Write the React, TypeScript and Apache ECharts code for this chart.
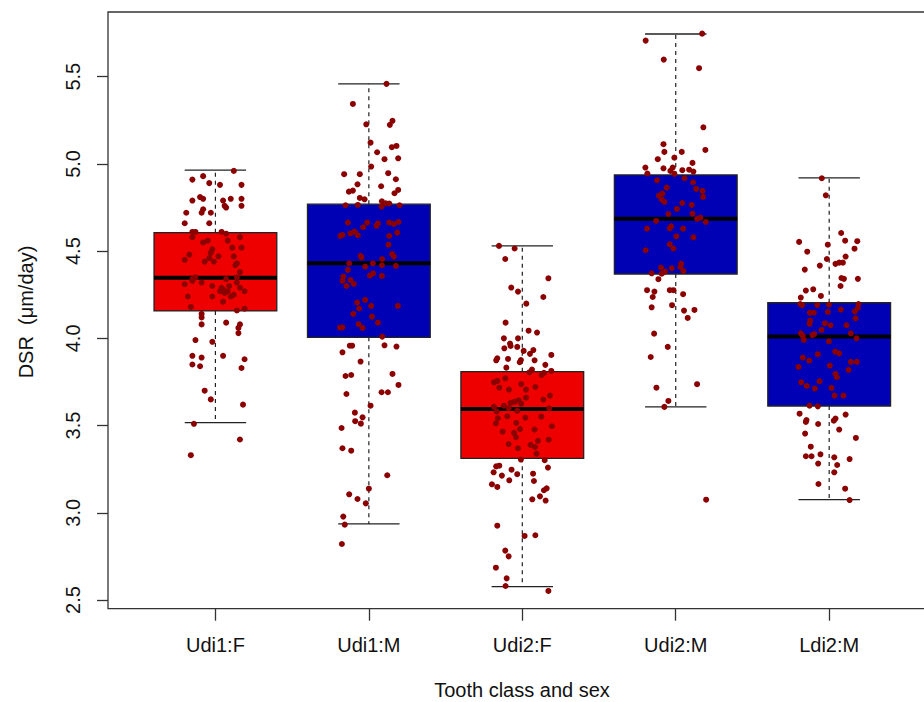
import React, { useEffect, useRef } from "react";
import * as echarts from "echarts";

// Categories (tooth class : sex)
const categories = ["Udi1:F", "Udi1:M", "Udi2:F", "Udi2:M", "Ldi2:M"];

// Box statistics (µm/day)
const whiskerLow = [3.517, 2.936, 2.576, 3.607, 3.075];
const q1 = [4.157, 4.006, 3.312, 4.369, 3.612];
const median = [4.348, 4.431, 3.595, 4.685, 4.01];
const q3 = [4.606, 4.769, 3.809, 4.937, 4.204];
const whiskerHigh = [4.964, 5.459, 4.53, 5.745, 4.92];

// Box fill colours
const boxColors = ["#EE0000", "#0000B4", "#EE0000", "#0000B4", "#0000B4"];

// Y-axis tick values
const yTicks = [2.5, 3.0, 3.5, 4.0, 4.5, 5.0, 5.5];

// Individual observations: [horizontal jitter (category units), DSR value]
const udi1F = [
  [0.12, 4.96], [-0.15, 4.91], [-0.08, 4.93], [-0.04, 4.89], [0.03, 4.88], [0.17, 4.88],
  [-0.15, 4.79], [-0.1, 4.81], [-0.08, 4.8], [0.05, 4.79], [0.1, 4.8], [0.17, 4.8],
  [0.17, 4.76], [0.06, 4.76], [0.07, 4.75], [-0.08, 4.74], [-0.09, 4.72], [-0.19, 4.72],
  [-0.03, 4.72], [-0.2, 4.66], [-0.04, 4.66], [-0.15, 4.61], [-0.13, 4.61], [0.04, 4.61],
  [0.07, 4.6], [-0.15, 4.58], [-0.05, 4.56], [-0.08, 4.55], [0.08, 4.56], [0.16, 4.58],
  [-0.02, 4.51], [0.17, 4.52], [0.11, 4.52], [-0.17, 4.48], [-0.03, 4.49], [0.02, 4.47],
  [-0.04, 4.46], [-0.2, 4.45], [-0.07, 4.44], [-0.01, 4.44], [0.12, 4.47], [0.13, 4.42],
  [0.14, 4.43], [0.16, 4.38], [-0.15, 4.34], [-0.13, 4.35], [0.07, 4.34], [0.14, 4.35],
  [-0.2, 4.31], [-0.15, 4.33], [-0.09, 4.32], [-0.02, 4.3], [0.04, 4.29], [0.05, 4.28],
  [0.09, 4.3], [0.14, 4.32], [0.03, 4.27], [0.06, 4.26], [0.08, 4.27], [0.16, 4.29],
  [0.19, 4.27], [-0.02, 4.24], [-0.18, 4.24], [0.1, 4.24], [0.12, 4.25], [0.05, 4.21],
  [-0.16, 4.18], [0.14, 4.16], [0.19, 4.17], [-0.09, 4.14], [-0.09, 4.12], [-0.09, 4.08],
  [0.07, 4.09], [0.16, 4.08], [0.15, 4.06], [0.15, 4.03], [-0.13, 3.99], [-0.02, 3.98],
  [-0.15, 3.9], [-0.09, 3.89], [0.05, 3.9], [0.19, 3.88], [-0.15, 3.85], [-0.1, 3.84],
  [0.17, 3.83], [-0.07, 3.7], [-0.03, 3.65], [0.18, 3.62], [-0.14, 3.51], [0.16, 3.42],
  [-0.16, 3.33],
];

const udi1M = [
  [0.115, 5.459], [-0.104, 5.344], [-0.017, 5.227], [0.137, 5.224], [0.154, 5.247], [0.011, 5.122],
  [0.054, 5.067], [0.102, 5.027], [0.15, 5.096], [0.18, 5.103], [0.191, 5.032], [0.015, 4.985],
  [-0.161, 4.941], [-0.059, 4.941], [0.126, 4.947], [0.176, 4.912], [-0.074, 4.883], [0.08, 4.872],
  [-0.13, 4.841], [-0.104, 4.847], [0.191, 4.851], [0.167, 4.832], [-0.059, 4.805], [-0.028, 4.797],
  [0.085, 4.786], [0.111, 4.774], [0.133, 4.773], [-0.152, 4.763], [-0.072, 4.765], [0.083, 4.755],
  [0.2, 4.763], [-0.137, 4.664], [-0.037, 4.637], [-0.011, 4.664], [0.05, 4.645], [0.059, 4.66],
  [0.133, 4.664], [0.163, 4.656], [0.193, 4.667], [0.185, 4.606], [-0.185, 4.587], [-0.172, 4.593],
  [-0.12, 4.602], [-0.093, 4.612], [-0.072, 4.591], [0.133, 4.587], [0.128, 4.537], [-0.054, 4.473],
  [-0.048, 4.463], [0.152, 4.484], [0.163, 4.469], [0.176, 4.415], [0.087, 4.455], [-0.128, 4.43],
  [0.026, 4.43], [-0.024, 4.411], [0.085, 4.419], [-0.137, 4.392], [0.028, 4.373], [0.007, 4.36],
  [0.085, 4.358], [-0.167, 4.354], [-0.172, 4.329], [-0.12, 4.335], [-0.098, 4.312], [-0.146, 4.3],
  [-0.024, 4.22], [-0.076, 4.205], [0.015, 4.186], [-0.063, 4.171], [0.189, 4.186], [-0.102, 4.14],
  [0.02, 4.125], [0.059, 4.09], [-0.067, 4.081], [-0.041, 4.06], [-0.189, 4.062], [-0.172, 4.063],
  [0.087, 4.01], [-0.124, 3.958], [-0.109, 3.958], [0.102, 3.96], [0.18, 3.953], [-0.172, 3.92],
  [-0.054, 3.867], [-0.152, 3.784], [-0.115, 3.79], [0.154, 3.796], [0.193, 3.733], [-0.146, 3.681],
  [0.083, 3.691], [0.124, 3.691], [0.011, 3.614], [-0.091, 3.574], [-0.041, 3.547], [-0.089, 3.525],
  [-0.052, 3.511], [-0.178, 3.486], [-0.172, 3.37], [-0.115, 3.356], [0.12, 3.215], [0.0, 3.138],
  [-0.128, 3.106], [-0.074, 3.079], [-0.02, 3.054], [-0.167, 2.978], [-0.157, 2.932], [-0.176, 2.821],
];

const udi2F = [
  [-0.152, 4.53], [-0.05, 4.515], [-0.111, 4.455], [0.17, 4.344], [-0.072, 4.291], [-0.028, 4.268],
  [0.137, 4.237], [0.026, 4.199], [-0.109, 4.09], [0.041, 4.044], [0.096, 4.033], [-0.12, 4.0],
  [-0.028, 4.0], [-0.08, 3.97], [-0.076, 3.956], [-0.117, 3.943], [-0.033, 3.951], [0.009, 3.928],
  [0.072, 3.933], [0.05, 3.911], [0.189, 3.905], [-0.163, 3.886], [-0.17, 3.874], [-0.093, 3.882],
  [-0.009, 3.876], [-0.017, 3.863], [0.08, 3.874], [0.15, 3.848], [-0.104, 3.832], [0.063, 3.821],
  [0.046, 3.805], [0.189, 3.813], [0.141, 3.802], [0.126, 3.79], [-0.111, 3.771], [-0.185, 3.748],
  [-0.163, 3.756], [-0.007, 3.737], [-0.15, 3.717], [-0.087, 3.706], [0.085, 3.721], [0.024, 3.706],
  [0.18, 3.672], [0.137, 3.649], [-0.024, 3.645], [0.024, 3.66], [-0.076, 3.63], [-0.05, 3.637],
  [-0.007, 3.626], [-0.12, 3.614], [-0.185, 3.607], [-0.089, 3.599], [-0.033, 3.584], [-0.167, 3.58],
  [-0.159, 3.542], [-0.098, 3.553], [0.02, 3.545], [0.124, 3.551], [0.176, 3.599], [-0.039, 3.515],
  [-0.172, 3.513], [-0.128, 3.465], [-0.054, 3.458], [-0.015, 3.48], [0.08, 3.477], [0.193, 3.496],
  [0.102, 3.412], [-0.041, 3.433], [-0.089, 3.393], [0.054, 3.389], [0.083, 3.377], [-0.028, 3.37],
  [0.172, 3.419], [0.093, 3.339], [-0.009, 3.305], [0.146, 3.301], [-0.15, 3.27], [-0.17, 3.266],
  [0.167, 3.259], [-0.033, 3.221], [-0.07, 3.247], [-0.085, 3.186], [-0.133, 3.213], [-0.187, 3.232],
  [0.07, 3.224], [0.076, 3.182], [-0.198, 3.163], [-0.163, 3.148], [0.159, 3.14], [0.141, 3.129],
  [0.065, 3.077], [0.115, 3.094], [0.152, 3.07], [-0.163, 2.926], [0.015, 2.867], [0.085, 2.871],
  [-0.111, 2.783], [-0.089, 2.75], [-0.172, 2.685], [-0.102, 2.624], [-0.109, 2.58], [0.17, 2.552],
];

const udi2M = [
  [0.172, 5.747], [-0.196, 5.707], [-0.078, 5.598], [0.152, 5.549], [0.18, 5.21], [0.193, 5.08],
  [-0.08, 5.113], [-0.074, 5.069], [0.039, 5.069], [-0.117, 5.027], [-0.009, 5.036], [0.109, 5.006],
  [-0.198, 4.979], [-0.08, 4.975], [-0.02, 4.979], [-0.035, 4.96], [0.043, 4.964], [0.087, 4.967],
  [0.115, 4.956], [-0.185, 4.945], [-0.009, 4.943], [0.057, 4.918], [-0.122, 4.906], [0.113, 4.895],
  [-0.059, 4.864], [0.133, 4.857], [0.174, 4.845], [0.178, 4.811], [-0.087, 4.83], [-0.109, 4.818],
  [-0.091, 4.795], [-0.074, 4.782], [0.043, 4.776], [0.104, 4.765], [0.007, 4.742], [0.109, 4.715],
  [-0.048, 4.713], [-0.128, 4.673], [0.139, 4.685], [0.161, 4.692], [0.196, 4.667], [-0.187, 4.629],
  [-0.039, 4.631], [-0.03, 4.642], [0.048, 4.629], [0.004, 4.585], [0.115, 4.579], [-0.039, 4.539],
  [-0.015, 4.515], [-0.196, 4.505], [0.035, 4.428], [-0.096, 4.406], [-0.026, 4.402], [0.03, 4.409],
  [0.05, 4.386], [-0.07, 4.383], [-0.157, 4.373], [-0.091, 4.371], [-0.113, 4.339], [-0.187, 4.276],
  [-0.139, 4.268], [-0.039, 4.276], [-0.015, 4.276], [0.048, 4.253], [-0.15, 4.237], [-0.024, 4.19],
  [-0.157, 4.178], [0.054, 4.159], [0.122, 4.163], [0.078, 4.117], [-0.141, 4.027], [-0.052, 3.951],
  [-0.163, 3.893], [-0.126, 3.717], [0.139, 3.737], [-0.048, 3.641], [-0.074, 3.607], [0.198, 3.075],
];

const ldi2M = [
  [-0.048, 4.918], [-0.022, 4.82], [0.078, 4.604], [-0.196, 4.553], [0.104, 4.56], [0.183, 4.557],
  [-0.009, 4.537], [-0.143, 4.497], [0.165, 4.514], [0.107, 4.469], [-0.015, 4.455], [0.041, 4.427],
  [0.065, 4.434], [0.089, 4.434], [-0.061, 4.417], [-0.159, 4.394], [0.08, 4.346], [0.096, 4.341],
  [0.187, 4.341], [0.074, 4.3], [-0.152, 4.274], [-0.104, 4.281], [-0.054, 4.243], [-0.185, 4.234],
  [-0.189, 4.197], [-0.176, 4.19], [-0.078, 4.191], [-0.002, 4.193], [0.191, 4.197], [0.187, 4.174],
  [0.076, 4.165], [0.167, 4.155], [-0.126, 4.147], [-0.1, 4.147], [-0.009, 4.151], [0.172, 4.115],
  [-0.124, 4.102], [-0.128, 4.083], [-0.028, 4.086], [0.009, 4.075], [0.113, 4.075], [-0.05, 4.048],
  [-0.185, 4.029], [-0.172, 4.014], [-0.165, 3.991], [-0.109, 4.018], [-0.098, 4.025], [0.141, 4.029],
  [0.178, 4.0], [-0.002, 3.983], [0.039, 3.924], [0.065, 3.914], [-0.074, 3.909], [-0.172, 3.89],
  [-0.13, 3.872], [0.141, 3.865], [0.18, 3.865], [-0.2, 3.836], [0.004, 3.844], [0.126, 3.819],
  [0.041, 3.796], [0.05, 3.777], [-0.183, 3.748], [-0.063, 3.754], [-0.146, 3.727], [-0.093, 3.712],
  [0.015, 3.716], [0.035, 3.672], [0.093, 3.672], [-0.128, 3.614], [-0.074, 3.61], [-0.193, 3.568],
  [0.107, 3.563], [-0.152, 3.521], [-0.148, 3.532], [-0.072, 3.509], [0.03, 3.528], [0.041, 3.54],
  [0.065, 3.477], [-0.157, 3.454], [0.174, 3.429], [-0.12, 3.379], [-0.152, 3.324], [-0.115, 3.324],
  [-0.057, 3.335], [0.033, 3.318], [0.133, 3.308], [-0.072, 3.282], [0.052, 3.274], [0.033, 3.232],
  [-0.07, 3.165], [0.104, 3.138], [0.133, 3.073],
];

const groups = [udi1F, udi1M, udi2F, udi2M, ldi2M];

const FONT = "'Liberation Sans', Arial, Helvetica, sans-serif";

export default function App() {
  const ref = useRef<HTMLDivElement>(null);

  useEffect(() => {
    if (!ref.current) return;
    const chart = echarts.init(ref.current, undefined, { renderer: "svg" });

    const boxData = categories.map((_, i) => [
      i + 1,
      whiskerLow[i],
      q1[i],
      median[i],
      q3[i],
      whiskerHigh[i],
    ]);

    const pointData: number[][] = [];
    groups.forEach((g, i) => {
      g.forEach(([j, v]) => pointData.push([i + 1 + j, v]));
    });

    const option: any = {
      animation: false,
      backgroundColor: "#ffffff",
      grid: {
        left: 108,
        top: 12,
        width: 828.6,
        height: 596.7,
        show: true,
        borderColor: "#333333",
        borderWidth: 1.3,
        backgroundColor: "transparent",
      },
      xAxis: {
        type: "value",
        min: 0.3,
        max: 5.7,
        splitLine: { show: false },
        axisLine: { show: false },
        axisTick: {
          show: true,
          length: 12,
          customValues: [1, 2, 3, 4, 5],
          lineStyle: { color: "#333333", width: 1.3 },
        },
        axisLabel: {
          show: true,
          customValues: [1, 2, 3, 4, 5],
          formatter: (v: number) => categories[Math.round(v) - 1] ?? "",
          margin: 26,
          color: "#111111",
          fontSize: 20,
          fontFamily: FONT,
        },
      },
      yAxis: {
        type: "value",
        min: 2.45,
        max: 5.871,
        splitLine: { show: false },
        axisLine: { show: false },
        axisTick: {
          show: true,
          length: 11,
          customValues: yTicks,
          lineStyle: { color: "#333333", width: 1.3 },
        },
        axisLabel: {
          show: true,
          customValues: yTicks,
          rotate: 90,
          margin: 25,
          formatter: (v: number) => v.toFixed(1),
          color: "#111111",
          fontSize: 20,
          fontFamily: FONT,
        },
      },
      graphic: [
        {
          type: "text",
          x: 26,
          y: 312,
          rotation: Math.PI / 2,
          style: {
            text: "DSR  (\u03BCm/day)",
            fill: "#111111",
            font: `20px ${FONT}`,
            textAlign: "center",
            textVerticalAlign: "middle",
          },
        },
        {
          type: "text",
          x: 522,
          y: 690,
          style: {
            text: "Tooth class and sex",
            fill: "#111111",
            font: `20px ${FONT}`,
            textAlign: "center",
            textVerticalAlign: "middle",
          },
        },
      ],
      series: [
        {
          type: "custom",
          z: 2,
          data: boxData,
          encode: { x: 0, y: [1, 2, 3, 4, 5] },
          renderItem: (params: any, api: any) => {
            const x = api.value(0);
            const pLo = api.coord([x, api.value(1)]);
            const pQ1 = api.coord([x, api.value(2)]);
            const pMd = api.coord([x, api.value(3)]);
            const pQ3 = api.coord([x, api.value(4)]);
            const pHi = api.coord([x, api.value(5)]);
            const w = api.size([0.8, 0])[0];
            const cx = pMd[0];
            const capHalf = w / 4;
            const dash = { stroke: "#222222", lineWidth: 1.2, lineDash: [4, 4] };
            const solid = { stroke: "#222222", lineWidth: 1.3 };
            return {
              type: "group",
              children: [
                { type: "line", shape: { x1: cx, y1: pQ3[1], x2: cx, y2: pHi[1] }, style: dash },
                { type: "line", shape: { x1: cx, y1: pQ1[1], x2: cx, y2: pLo[1] }, style: dash },
                { type: "line", shape: { x1: cx - capHalf, y1: pHi[1], x2: cx + capHalf, y2: pHi[1] }, style: solid },
                { type: "line", shape: { x1: cx - capHalf, y1: pLo[1], x2: cx + capHalf, y2: pLo[1] }, style: solid },
                {
                  type: "rect",
                  shape: { x: cx - w / 2, y: pQ3[1], width: w, height: pQ1[1] - pQ3[1] },
                  style: { fill: boxColors[params.dataIndex], stroke: "#222222", lineWidth: 1.3 },
                },
                {
                  type: "line",
                  shape: { x1: cx - w / 2, y1: pMd[1], x2: cx + w / 2, y2: pMd[1] },
                  style: { stroke: "#000000", lineWidth: 4 },
                },
              ],
            };
          },
        },
        {
          type: "scatter",
          z: 3,
          data: pointData,
          symbol: "circle",
          symbolSize: 6,
          itemStyle: { color: "#8B0000", opacity: 1 },
        },
      ],
    };

    chart.setOption(option);
    return () => chart.dispose();
  }, []);

  return (
    <div
      ref={ref}
      style={{ position: "fixed", left: 0, top: 0, width: 960, height: 702, background: "#fff" }}
    />
  );
}
